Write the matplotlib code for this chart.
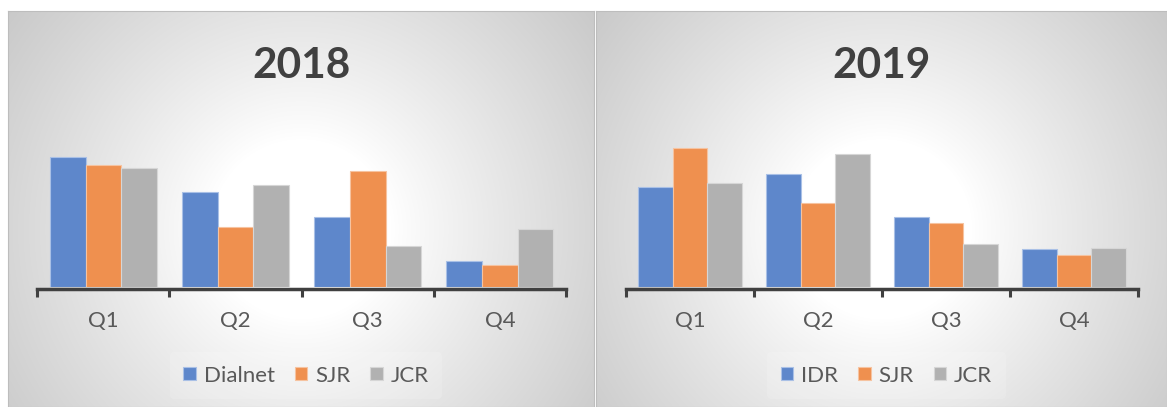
"""Distribución por cuartiles 2018 / 2019 —— dos paneles de barras estilo Excel"""
import numpy as np
import matplotlib
matplotlib.use("Agg")
import matplotlib.pyplot as plt
from matplotlib.patches import Patch

# ============ datos ============
quarters = ["Q1", "Q2", "Q3", "Q4"]

series_2018 = ["Dialnet", "SJR", "JCR"]
dialnet_2018 = [40.7, 29.6, 21.8, 8.2]
sjr_2018 = [38.1, 18.7, 36.2, 6.9]
jcr_2018 = [37.1, 31.9, 13.0, 18.2]

series_2019 = ["IDR", "SJR", "JCR"]
idr_2019 = [31.2, 35.2, 21.8, 11.8]
sjr_2019 = [43.5, 26.2, 19.9, 10.1]
jcr_2019 = [32.4, 41.4, 13.5, 12.3]

COLORS = ["#5E87CB", "#EF904F", "#B1B1B1"]
EDGES = ["#A9C0E6", "#F6C3A0", "#D6D6D6"]
TEXT = "#595959"
DARK = "#404040"

plt.rcParams["font.family"] = ["Lato", "DejaVu Sans"]

W, H = 1167, 407
fig = plt.figure(figsize=(W / 100, H / 100), dpi=100)


def px(x0, y0, x1, y1):
    """píxeles (origen arriba-izquierda) -> rect de figura"""
    return [x0 / W, 1 - y1 / H, (x1 - x0) / W, (y1 - y0) / H]


def _background(x0, y0, x1, y1):
    """fondo con degradado radial blanco -> gris"""
    bg = fig.add_axes(px(x0, y0, x1, y1), zorder=0)
    w, h = int(x1 - x0), int(y1 - y0)
    yy, xx = np.mgrid[0:h, 0:w]
    cx, cy = w / 2, h * 0.55
    r = np.hypot(xx - cx, yy - cy)
    t = np.clip((r - 90) / (np.hypot(cx, cy) - 90), 0, 1) ** 0.9
    v = 1 - 0.21 * t
    bg.imshow(np.dstack([v, v, v]), aspect="auto", interpolation="bilinear",
              extent=(0, 1, 0, 1))
    for s in bg.spines.values():
        s.set_color("#BDBDBD")
        s.set_linewidth(0.8)
    bg.set_xticks([])
    bg.set_yticks([])


def _panel(panel, axes_px, title, names, values):
    x0, y0, x1, y1 = panel
    _background(x0, y0, x1, y1)

    ax = fig.add_axes(px(*axes_px), zorder=2)
    ax.patch.set_alpha(0)
    x = np.arange(len(quarters))
    bw = 0.27
    for i, vals in enumerate(values):
        ax.bar(x + (i - 1) * bw, vals, bw, color=COLORS[i], edgecolor=EDGES[i],
               linewidth=0.8, zorder=2)

    ax.set_xlim(-0.5, len(quarters) - 0.5)
    ax.set_ylim(0, 49.8)
    for s in ("left", "right", "top"):
        ax.spines[s].set_visible(False)
    ax.spines["bottom"].set_color(DARK)
    ax.spines["bottom"].set_linewidth(2.5)
    ax.spines["bottom"].set_position(("outward", 1.25))
    ax.set_yticks([])
    ax.set_xticks(x)
    ax.set_xticklabels(quarters, fontsize=16, color=TEXT)
    ax.tick_params(axis="x", which="major", length=0, pad=15.5)
    ax.set_xticks(np.arange(-0.5, len(quarters)), minor=True)
    ax.tick_params(axis="x", which="minor", length=6, width=2.2, color=DARK,
                   direction="out")

    cxf = (x0 + x1) / 2 / W
    fig.text(cxf, 1 - 78.3 / H, title, ha="center", va="baseline",
             fontsize=30.5, fontweight="bold", color=DARK, zorder=3)

    handles = [Patch(facecolor=COLORS[i], edgecolor=EDGES[i], linewidth=0.8)
               for i in range(len(names))]
    leg = fig.legend(handles, names, loc="center", ncol=3,
                     bbox_to_anchor=(cxf + 5 / W, 1 - 375.5 / H), fontsize=16,
                     frameon=True, handlelength=0.57, handleheight=0.57,
                     handletextpad=0.35, columnspacing=0.9, borderpad=0.6,
                     labelcolor=TEXT)
    leg.get_frame().set_facecolor("white")
    leg.get_frame().set_alpha(0.15)
    leg.get_frame().set_edgecolor("none")
    leg.set_zorder(3)


_panel((8, 11, 594, 407), (37.3, 127.3, 566, 287.3), "2018",
       series_2018, [dialnet_2018, sjr_2018, jcr_2018])
_panel((596, 11, 1167, 407), (626, 127.3, 1138, 287.3), "2019",
       series_2019, [idr_2019, sjr_2019, jcr_2019])

fig.savefig("out.png", dpi=100)
